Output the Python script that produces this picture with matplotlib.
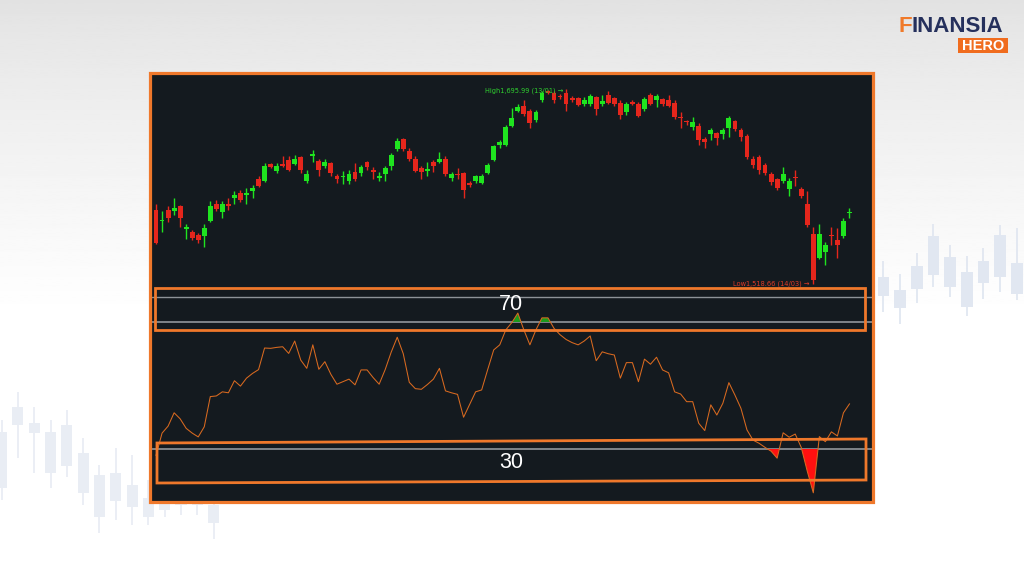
import numpy as np
import matplotlib.pyplot as plt
from matplotlib.patches import Rectangle, Polygon

W, H = 1024, 576

# daily candles, one per session (open, high, low, close)
opens = [1586, 1576, 1586, 1585, 1590, 1569, 1566, 1563, 1562, 1576,
         1592, 1584, 1592, 1597, 1602, 1600, 1603, 1614, 1613, 1628,
         1622, 1628, 1632, 1628, 1634, 1613, 1635, 1631, 1626, 1629,
         1617, 1616, 1613, 1621, 1620, 1630, 1623, 1615, 1619, 1626,
         1642, 1651, 1640, 1633, 1624, 1622, 1630, 1630, 1633, 1615,
         1619, 1620, 1611, 1613, 1611, 1620, 1632, 1645, 1645, 1663,
         1676, 1681, 1676, 1668, 1686, 1695, 1693, 1690, 1693, 1688,
         1688, 1683, 1683, 1689, 1683, 1691, 1688, 1684, 1675, 1685,
         1683, 1678, 1691, 1686, 1687, 1686, 1684, 1671, 1667, 1662,
         1663, 1651, 1655, 1656, 1655, 1661, 1667, 1659, 1654, 1633,
         1634, 1627, 1619, 1614, 1613, 1605, 1616, 1605, 1592, 1564,
         1542, 1548, 1563, 1559, 1562, 1583]
highs = [1592, 1585, 1590, 1597, 1591, 1573, 1568, 1565, 1573, 1594,
         1595, 1594, 1597, 1603, 1604, 1606, 1609, 1617, 1629, 1629,
         1629, 1635, 1635, 1636, 1635, 1623, 1641, 1633, 1633, 1630,
         1619, 1622, 1623, 1629, 1627, 1631, 1625, 1621, 1626, 1638,
         1652, 1652, 1643, 1635, 1626, 1630, 1632, 1639, 1635, 1621,
         1624, 1621, 1613, 1618, 1619, 1629, 1645, 1650, 1664, 1679,
         1683, 1686, 1678, 1677, 1695, 1695.5, 1695, 1692, 1695.99, 1690,
         1689, 1689, 1692, 1690, 1691, 1695, 1689, 1686, 1685, 1686,
         1685, 1689, 1693, 1692, 1688, 1691, 1686, 1675, 1668, 1671,
         1665, 1653, 1661, 1657, 1661, 1672, 1668, 1661, 1655, 1635,
         1636, 1629, 1621, 1615, 1625, 1615, 1623, 1607, 1603, 1571,
         1573, 1557, 1571, 1570, 1579, 1588]
lows = [1555, 1566, 1575, 1582, 1571, 1560, 1559, 1556, 1552, 1575,
        1585, 1579, 1586, 1592, 1593, 1592, 1597, 1607, 1612, 1624,
        1620, 1625, 1622, 1627, 1620, 1611, 1630, 1617, 1624, 1617,
        1611, 1610, 1610, 1613, 1617, 1623, 1614, 1613, 1613, 1623,
        1640, 1640, 1631, 1621, 1614, 1617, 1621, 1629, 1617, 1613,
        1614, 1597, 1607, 1611, 1610, 1619, 1631, 1643, 1644, 1662,
        1675, 1672, 1661, 1666, 1685, 1692, 1684, 1687, 1676, 1685,
        1681, 1681, 1681, 1673, 1681, 1683, 1681, 1669, 1673, 1682,
        1671, 1676, 1682, 1680, 1681, 1680, 1669, 1661, 1664, 1659,
        1645, 1643, 1650, 1645, 1651, 1653, 1658, 1649, 1633, 1624,
        1619, 1618, 1609, 1604, 1611, 1599, 1608, 1597, 1571, 1518.66,
        1541, 1536, 1554, 1542, 1561, 1579]
closes = [1556, 1577, 1579, 1588, 1579, 1570, 1561, 1559, 1570, 1590,
          1587, 1592, 1590, 1600, 1595, 1602, 1606, 1608, 1626, 1625,
          1626, 1626, 1623, 1633, 1623, 1619, 1637, 1623, 1630, 1620,
          1614, 1617, 1619, 1614, 1625, 1625, 1621, 1617, 1624, 1636,
          1649, 1642, 1633, 1622, 1621, 1623, 1626, 1633, 1619, 1619,
          1618, 1604, 1609, 1617, 1617, 1627, 1644, 1648, 1662, 1670,
          1680, 1674, 1665, 1675, 1693, 1693, 1686, 1689, 1683, 1686,
          1682, 1686, 1690, 1678, 1685.5, 1684, 1683, 1673, 1683, 1683,
          1672, 1687, 1683, 1690, 1683, 1681, 1671, 1670, 1666, 1666,
          1650, 1648, 1659, 1652, 1659, 1670, 1660, 1653, 1634, 1627,
          1623, 1620, 1612, 1606, 1619, 1613, 1615, 1599, 1572, 1522,
          1564, 1554, 1562, 1554, 1576, 1584]

# RSI(14) per session
rsi = [28, 35, 37.2, 41.4, 39.5, 36.5, 35, 33.8, 37, 46.5,
       46.7, 48, 47.7, 51.5, 49.8, 52.3, 53.8, 55, 61.8, 61.7,
       62, 62.2, 60.1, 64, 58, 55.4, 62.8, 55.1, 57.5, 53.5,
       50.4, 51.2, 52, 50.2, 54.9, 54.9, 52.5, 50.4, 55, 60.5,
       65.2, 60, 51, 49, 48.8, 50.3, 52, 55.4, 48.3, 47.7,
       47.2, 40, 44, 48, 48.6, 55, 61.2, 62.8, 67.5, 69.8,
       72.8, 67.5, 62.8, 67.5, 71.3, 71.3, 68, 66, 64.5, 63.5,
       62.8, 64, 65.6, 57.8, 60.6, 60, 59.6, 52.3, 57.2, 57.2,
       51.2, 58.3, 56.7, 58.9, 54.9, 54, 48, 47.3, 44.9, 44.9,
       38.1, 35.8, 43.9, 40.7, 44.4, 50.9, 47, 42.8, 36, 32.8,
       31.8, 30.5, 29.3, 27.1, 35.1, 33.7, 34.7, 30.5, 23, 16.2,
       33.9, 32.3, 35.4, 34.1, 41.4, 44.2]

high_label = "High1,695.99 (13/01) \u2192"
low_label = "Low1,518.66 (14/03) \u2192"
levels = [70, 30]

# faded decorative candles in the page background (body low/high, wick low/high)
deco_r_body_lo = [34, 22, 41, 55, 43, 23, 47, 53, 36]
deco_r_body_hi = [53, 40, 64, 94, 73, 58, 69, 95, 67]
deco_r_wick_lo = [18, 6, 27, 43, 33, 14, 31, 38, 30]
deco_r_wick_hi = [69, 56, 77, 106, 85, 74, 82, 105, 102]

deco_l_body_lo = [57, 120, 112, 72, 79, 52, 28, 44, 38, 28, 35, 40, 40, 22]
deco_l_body_hi = [113, 138, 122, 113, 120, 92, 70, 72, 60, 47, 50, 60, 60, 40]
deco_l_wick_lo = [45, 87, 72, 57, 68, 40, 12, 25, 20, 20, 28, 30, 30, 6]
deco_l_wick_hi = [125, 153, 138, 125, 135, 107, 80, 97, 90, 65, 75, 75, 75, 55]

UP, DOWN = '#1fe41f', '#e5261c'
PANEL = '#141a1f'
ORANGE = '#ef782b'


def fx(px):
    return px / W


def fy(py):
    return 1 - py / H


def candles(ax, o, h, l, c, up, down, width, wick_lw, min_h):
    o, h, l, c = map(np.asarray, (o, h, l, c))
    x = np.arange(len(o))
    col = np.where(c >= o, up, down)
    ax.vlines(x, l, h, colors=col, lw=wick_lw, zorder=2)
    ax.bar(x, np.maximum(np.abs(c - o), min_h), width,
           bottom=np.minimum(o, c), color=col, zorder=3)


fig = plt.figure(figsize=(W / 100, H / 100), dpi=100)

# page background gradient
bg = fig.add_axes([0, 0, 1, 1], zorder=-10)
t = np.clip(np.linspace(0, 1, 300) / 0.55, 0, 1) ** 0.8
bg.imshow((0.885 + 0.115 * t)[:, None], cmap='gray', vmin=0, vmax=1,
          aspect='auto', extent=[0, 1, 0, 1])
bg.axis('off')

# decorative candles
axr = fig.add_axes([fx(875), fy(330), fx(1024) - fx(875), 110 / H], zorder=-5)
candles(axr, deco_r_body_lo, deco_r_wick_hi, deco_r_wick_lo, deco_r_body_hi,
        '#e1e7f1', '#e1e7f1', 0.7, 1.3, 0)
axr.set_xlim(-0.5, 8.43)
axr.set_ylim(0, 110)
axr.axis('off')

axl = fig.add_axes([0, fy(545), fx(240), 160 / H], zorder=-5)
candles(axl, deco_l_body_lo, deco_l_wick_hi, deco_l_wick_lo, deco_l_body_hi,
        '#e9edf4', '#e9edf4', 0.68, 1.3, 0)
axl.set_xlim(-0.1, 14.62)
axl.set_ylim(0, 160)
axl.axis('off')

# price pane
ax = fig.add_axes([fx(150), fy(297), fx(873) - fx(150), (297 - 73) / H])
ax.set_facecolor(PANEL)
candles(ax, opens, highs, lows, closes, UP, DOWN, 0.8, 1.0, 1.3)
ax.set_xlim(-1.0, 118.9)
ax.set_ylim(1506.8, 1711.0)
ax.set_xticks([])
ax.set_yticks([])
for s in ax.spines.values():
    s.set_visible(False)

i_hi = int(np.argmax(highs))
i_lo = int(np.argmin(lows))
ax.annotate(high_label, xy=(i_hi, highs[i_hi]), xytext=(-2, -1),
            textcoords='offset points', ha='right', va='center',
            color='#2fd12f', fontsize=4.8)
ax.annotate(low_label, xy=(i_lo, lows[i_lo]), xytext=(-3, 0),
            textcoords='offset points', ha='right', va='center',
            color='#e03a26', fontsize=4.8)

# RSI pane
ax2 = fig.add_axes([fx(150), fy(502), fx(873) - fx(150), (502 - 297) / H])
ax2.set_facecolor(PANEL)
xs = np.arange(len(rsi))
r = np.asarray(rsi)
ax2.plot(xs, r, color='#d96a20', lw=0.75, zorder=3)
ax2.fill_between(xs, r, 70, where=r > 70, interpolate=True,
                 color='#1c9a1c', lw=0, zorder=2)
ax2.fill_between(xs, r, 30, where=r < 30, interpolate=True,
                 color='#ff1010', lw=0, zorder=2)
for lv in levels:
    ax2.axhline(lv, color='#9ca1a6', lw=1.1, zorder=1)
ax2.set_xlim(-1.0, 118.9)
ax2.set_ylim(13.3, 77.87)
ax2.set_xticks([])
ax2.set_yticks([])
for k, s in ax2.spines.items():
    s.set_visible(k == 'top')
ax2.spines['top'].set_color('#8e9398')
ax2.spines['top'].set_linewidth(1.0)

# panel frame and highlight boxes
fig.add_artist(Rectangle((fx(150), fy(502)), fx(873) - fx(150), (502 - 73) / H,
                         fill=False, ec=ORANGE, lw=2.3,
                         transform=fig.transFigure, zorder=20))
fig.add_artist(Rectangle((fx(155), fy(330)), fx(865) - fx(155), 42 / H,
                         fill=False, ec=ORANGE, lw=2.0,
                         transform=fig.transFigure, zorder=20))
fig.add_artist(Polygon([(fx(157), fy(443)), (fx(866), fy(439)),
                        (fx(866), fy(480)), (fx(157), fy(483))],
                       closed=True, fill=False, ec=ORANGE, lw=2.0,
                       transform=fig.transFigure, zorder=20))
fig.text(fx(511), fy(305), str(levels[0]), color='white', fontsize=15.5,
         ha='center', va='center', family='Liberation Sans', zorder=21)
fig.text(fx(511), fy(463), str(levels[1]), color='white', fontsize=15.5,
         ha='center', va='center', family='Liberation Sans', zorder=21)

# logo: orange F, navy rest placed right after it
f_txt = fig.text(fx(898), fy(27), 'F', color='#f07a2a', fontsize=16,
                 fontweight='bold', ha='left', va='center', family='Liberation Sans')
bb = f_txt.get_window_extent(renderer=fig.canvas.get_renderer())
fig.text(bb.x1 / W, fy(27), 'INANSIA', color='#25305c', fontsize=16,
         fontweight='bold', ha='left', va='center', family='Liberation Sans')
fig.add_artist(Rectangle((fx(958), fy(53)), fx(1008) - fx(958), 15 / H,
                         fc='#f06c1e', ec='none', transform=fig.transFigure))
fig.text(fx(983), fy(45.5), 'HERO', color='white', fontsize=10.5,
         fontweight='bold', ha='center', va='center', family='Liberation Sans')

fig.savefig('out.png', dpi=100)
